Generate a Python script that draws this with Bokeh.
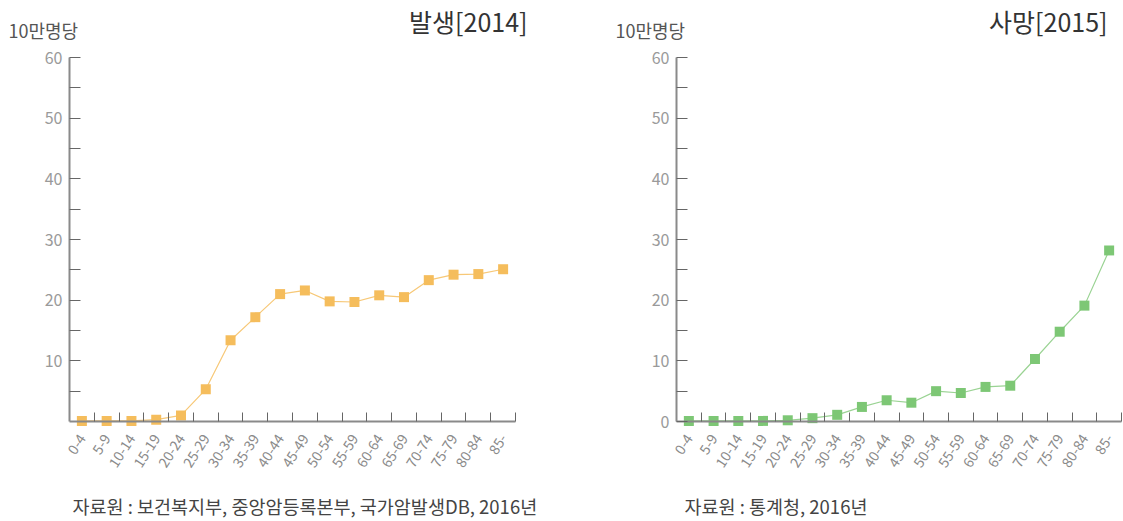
from bokeh.plotting import figure
from bokeh.models import Range1d, LinearAxis, FixedTicker, Label
from bokeh.layouts import row
from bokeh.embed import file_html
from bokeh.resources import INLINE

age_groups = ["0-4", "5-9", "10-14", "15-19", "20-24", "25-29", "30-34", "35-39",
              "40-44", "45-49", "50-54", "55-59", "60-64", "65-69", "70-74", "75-79",
              "80-84", "85-"]
incidence_2014 = [0.1, 0.1, 0.1, 0.3, 1.0, 5.3, 13.4, 17.2, 21.0, 21.6, 19.8, 19.7,
                  20.8, 20.5, 23.3, 24.2, 24.3, 25.1]
mortality_2015 = [0.1, 0.1, 0.1, 0.1, 0.2, 0.55, 1.1, 2.4, 3.5, 3.1, 5.0, 4.7,
                  5.7, 5.9, 10.3, 14.8, 19.1, 28.2]
y_major_ticks = [10, 20, 30, 40, 50, 60]
y_minor_ticks = [5, 15, 25, 35, 45, 55]
unit_label = "10만명당"
titles = ["발생[2014]", "사망[2015]"]
sources = ["자료원 : 보건복지부, 중앙암등록본부, 국가암발생DB, 2016년",
           "자료원 : 통계청, 2016년"]

FONT = "Noto Sans CJK KR"
H = 520
AX_TOP = 57      # canvas px of y = 60
AX_BASE = 421    # canvas px of y = 0
Y_MAX = 60


def panel(values, line_color, fill_color, title, source, width, ax_left, ax_w,
          show_zero, title_right, unit_left, source_left):
    n = len(age_groups)
    xs = list(range(n))
    ppx = ax_w / n
    ppy = (AX_BASE - AX_TOP) / Y_MAX
    x_start = -0.5 - ax_left / ppx
    x_end = -0.5 + (width - ax_left) / ppx
    y_end = Y_MAX + AX_TOP / ppy
    y_start = -(H - AX_BASE) / ppy

    def cx(px):
        return x_start + px / ppx

    def cy(py):
        return y_end - py / ppy

    p = figure(width=width, height=H, output_backend="svg", toolbar_location=None,
               x_range=Range1d(x_start, x_end), y_range=Range1d(y_start, y_end),
               x_axis_type=None, y_axis_type=None,
               min_border=0, min_border_left=0, min_border_right=0,
               min_border_top=0, min_border_bottom=0)
    p.outline_line_color = None
    p.background_fill_color = "white"
    p.border_fill_color = "white"

    majors = ([0] if show_zero else []) + y_major_ticks
    ya = LinearAxis(ticker=FixedTicker(ticks=majors, minor_ticks=y_minor_ticks),
                    bounds=(0, Y_MAX), fixed_location=-0.5)
    ya.major_tick_in = 11
    ya.major_tick_out = 0
    ya.minor_tick_in = 11
    ya.minor_tick_out = 0
    ya.axis_line_color = "#8a8a8a"
    ya.axis_line_width = 2
    ya.major_tick_line_color = "#666666"
    ya.minor_tick_line_color = "#666666"
    ya.major_label_text_color = "#9a9a9a"
    ya.major_label_text_font = FONT
    ya.major_label_text_font_size = "16px"
    ya.major_label_standoff = 7
    p.add_layout(ya, "left")

    xa = LinearAxis(ticker=FixedTicker(ticks=xs, minor_ticks=[i + 0.5 for i in xs]),
                    bounds=(-0.5, n - 0.5), fixed_location=0)
    xa.major_label_overrides = {i: g for i, g in zip(xs, age_groups)}
    xa.major_tick_line_color = None
    xa.minor_tick_in = 9
    xa.minor_tick_out = 0
    xa.minor_tick_line_color = "#666666"
    xa.axis_line_color = "#8a8a8a"
    xa.axis_line_width = 2
    xa.major_label_orientation = 1.0
    xa.major_label_text_color = "#8a8a8a"
    xa.major_label_text_font = FONT
    xa.major_label_text_font_size = "14px"
    xa.major_label_standoff = 8
    p.add_layout(xa, "below")

    p.line(xs, values, line_color=line_color, line_width=1.2)
    p.scatter(xs, values, marker="square", size=10, fill_color=fill_color,
              line_color=None)

    p.add_layout(Label(x=cx(title_right), y=cy(20), text=title,
                       text_align="right", text_baseline="middle",
                       text_font=FONT, text_font_size="25px", text_color="#333333"))
    p.add_layout(Label(x=cx(unit_left), y=cy(29), text=unit_label,
                       text_align="left", text_baseline="middle",
                       text_font=FONT, text_font_size="18px", text_color="#555555"))
    p.add_layout(Label(x=cx(source_left), y=cy(505), text=source,
                       text_align="left", text_baseline="middle",
                       text_font=FONT, text_font_size="18.5px", text_color="#444444"))
    return p


p1 = panel(incidence_2014, "#f7c877", "#f5bd5c", titles[0], sources[0],
           614, 69, 446, False, 527, 8, 72)
p2 = panel(mortality_2015, "#9ad393", "#7dc775", titles[1], sources[1],
           509, 62, 445, True, 1107 - 614, 615 - 614, 684 - 614)

layout = row(p1, p2)
open("out.html", "w").write(file_html(layout, INLINE))
